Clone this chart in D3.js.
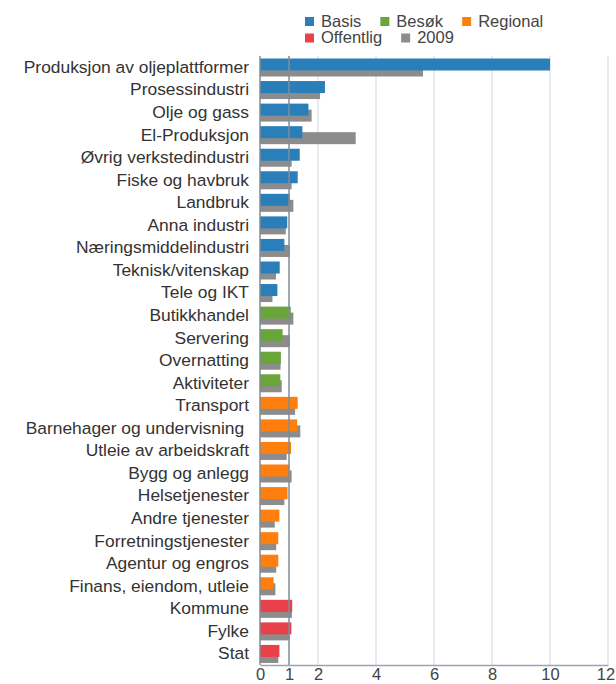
<!DOCTYPE html>
<html>
<head>
<meta charset="utf-8">
<script src="https://cdn.jsdelivr.net/npm/d3@7"></script>
<style>
  body { margin: 0; background: #fff; }
  svg { display: block; font-family: "Liberation Sans", Arial, sans-serif; }
</style>
</head>
<body>
<svg id="chart" width="616" height="684"></svg>
<script>
const categories = [
  "Produksjon av oljeplattformer", "Prosessindustri", "Olje og gass", "El-Produksjon",
  "Øvrig verkstedindustri", "Fiske og havbruk", "Landbruk", "Anna industri",
  "Næringsmiddelindustri", "Teknisk/vitenskap", "Tele og IKT",
  "Butikkhandel", "Servering", "Overnatting", "Aktiviteter",
  "Transport", "Barnehager og undervisning ", "Utleie av arbeidskraft", "Bygg og anlegg",
  "Helsetjenester", "Andre tjenester", "Forretningstjenester", "Agentur og engros",
  "Finans, eiendom, utleie",
  "Kommune", "Fylke", "Stat"
];
const groups = [
  "Basis","Basis","Basis","Basis","Basis","Basis","Basis","Basis","Basis","Basis","Basis",
  "Besøk","Besøk","Besøk","Besøk",
  "Regional","Regional","Regional","Regional","Regional","Regional","Regional","Regional","Regional",
  "Offentlig","Offentlig","Offentlig"
];
const currentValues = [
  10.0, 2.24, 1.67, 1.46, 1.37, 1.30, 1.03, 0.94, 0.84, 0.68, 0.60,
  1.06, 0.78, 0.72, 0.70,
  1.30, 1.28, 1.07, 1.02, 0.95, 0.67, 0.63, 0.63, 0.47,
  1.11, 1.08, 0.67
];
const values2009 = [
  5.62, 2.07, 1.78, 3.30, 1.09, 1.09, 1.15, 0.89, 1.03, 0.55, 0.43,
  1.15, 1.03, 0.71, 0.75,
  1.21, 1.39, 0.92, 1.09, 0.84, 0.51, 0.56, 0.56, 0.53,
  1.10, 1.02, 0.63
];
const xTicks = [0, 1, 2, 4, 6, 8, 10, 12];
const legendItems = ["Basis", "Besøk", "Regional", "Offentlig", "2009"];
const legendColors = ["#2a7fba", "#6aa53a", "#ff7f0e", "#e8414a", "#8c8c8c"];

const color = d3.scaleOrdinal().domain(legendItems).range(legendColors);

const svg = d3.select("#chart");
const margin = { left: 260, right: 8, top: 56, bottom: 19 };
const W = 616, H = 684;
const FONT = "'Liberation Sans', Arial, sans-serif";

const x = d3.scaleLinear().domain([0, 12]).range([margin.left, W - margin.right]);
const y = d3.scaleBand().domain(categories).range([margin.top, H - margin.bottom]).paddingInner(0);

// gridlines
svg.append("g").selectAll("line")
  .data(xTicks.filter(t => t >= 2))
  .join("line")
  .attr("x1", d => x(d)).attr("x2", d => x(d))
  .attr("y1", margin.top).attr("y2", H - margin.bottom)
  .attr("stroke", "#dfe4ea").attr("stroke-width", 1.5);

const barH = 12;
const data = categories.map((c, i) => ({ c, g: groups[i], v: currentValues[i], v09: values2009[i] }));

// 2009 bars (behind)
svg.append("g").selectAll("rect")
  .data(data).join("rect")
  .attr("x", x(0))
  .attr("y", d => y(d.c) + 8.5)
  .attr("width", d => x(d.v09) - x(0))
  .attr("height", barH)
  .attr("fill", color("2009"));

// current bars
svg.append("g").selectAll("rect")
  .data(data).join("rect")
  .attr("x", x(0))
  .attr("y", d => y(d.c) + 2.5)
  .attr("width", d => x(d.v) - x(0))
  .attr("height", barH)
  .attr("fill", d => color(d.g));

// reference lines at 0 and 1
svg.append("g").selectAll("line")
  .data([0, 1]).join("line")
  .attr("x1", d => x(d)).attr("x2", d => x(d))
  .attr("y1", margin.top).attr("y2", H - margin.bottom)
  .attr("stroke", "#7f8c99").attr("stroke-width", 1.5);

// bottom axis
const xAxis = d3.axisBottom(x).tickValues(xTicks).tickSize(0).tickPadding(3);
const ax = svg.append("g").attr("transform", `translate(0,${H - margin.bottom})`).call(xAxis);
ax.select(".domain").attr("stroke", "#9aa5b0").attr("stroke-width", 1.5);
ax.selectAll("text").attr("font-size", 16.5).attr("fill", "#444").attr("font-family", FONT);
// keep the last label inside the page
ax.selectAll(".tick").filter(d => d === 12).select("text").attr("dx", -2.5);

// category labels
const yAxis = d3.axisLeft(y).tickSize(0).tickPadding(11);
const ay = svg.append("g").attr("transform", `translate(${margin.left},0)`).call(yAxis);
ay.select(".domain").remove();
ay.selectAll("text").attr("font-size", 17.4).attr("fill", "#333").attr("font-family", FONT)
  .style("white-space", "pre");

// legend (flow layout)
const legend = svg.append("g");
const lgStartX = 305, lgRight = 610, rowH = 16.5, lgTop = 17;
let lx = lgStartX, row = 0;
legendItems.forEach((name) => {
  const g = legend.append("g");
  const t = g.append("text").text(name)
    .attr("font-size", 16.5).attr("fill", "#444").attr("font-family", FONT);
  const tw = t.node().getComputedTextLength();
  const itemW = 16 + tw;
  if (lx + itemW > lgRight && lx > lgStartX) { row++; lx = lgStartX; }
  const yy = lgTop + row * rowH;
  g.append("rect").attr("x", lx).attr("y", yy).attr("width", 9).attr("height", 9)
    .attr("fill", color(name));
  t.attr("x", lx + 16).attr("y", yy + 9.5);
  lx += itemW + 19;
});
</script>
</body>
</html>
